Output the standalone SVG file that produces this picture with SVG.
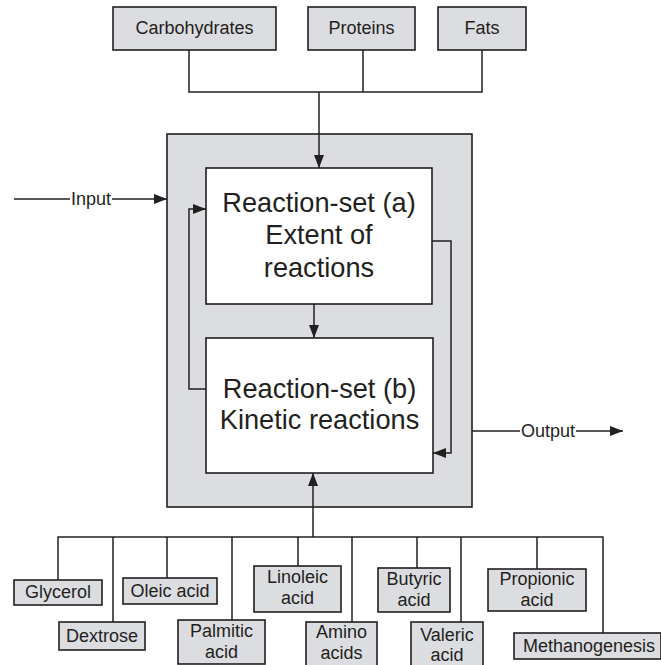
<svg xmlns="http://www.w3.org/2000/svg" width="661" height="665" viewBox="0 0 661 665">
<style>
.box{fill:#dcdde0;stroke:#231f20;stroke-width:1.6}
.wbox{fill:#ffffff;stroke:#231f20;stroke-width:1.6}
.ln{fill:none;stroke:#231f20;stroke-width:1.5}
.t{font-family:"Liberation Sans",Arial,sans-serif;font-size:18px;fill:#231f20;text-anchor:middle}
.big{font-family:"Liberation Sans",Arial,sans-serif;font-size:27.2px;fill:#231f20;text-anchor:middle}
</style>
<defs>
<marker id="ah" viewBox="0 0 13 10" refX="13" refY="5" markerWidth="13" markerHeight="10" markerUnits="userSpaceOnUse" orient="auto">
<path d="M0,0 L13,5 L0,10 Z" fill="#231f20"/>
</marker>
</defs>
<g id="outer"><rect class="box" x="167" y="134" width="305" height="373"/></g>
<g id="connectors">
<path class="ln" d="M189,50 V92 H482 V50 M363,50 V92"/>
<path class="ln" d="M319,92 V168" marker-end="url(#ah)"/>
<path class="ln" d="M14,199 H70 M112,199 H167" marker-end="url(#ah)"/>
<path class="ln" d="M314,304 V338" marker-end="url(#ah)"/>
<path class="ln" d="M206,389 H189 V209 H206" marker-end="url(#ah)"/>
<path class="ln" d="M432,241 H451 V453 H433" marker-end="url(#ah)"/>
<path class="ln" d="M472,431 H520 M576,431 H623" marker-end="url(#ah)"/>
<path class="ln" d="M313,537 V473" marker-end="url(#ah)"/>
<path class="ln" d="M58,580 V537 H603 V633 M113,537 V622 M167,537 V578 M232,537 V620 M298,537 V566 M352,537 V622 M417,537 V568 M461,537 V622 M537,537 V569"/>
<text class="t" x="91" y="205">Input</text>
<text class="t" x="548" y="437">Output</text>
</g>
<g id="carbohydrates"><rect class="box" x="113" y="7" width="163" height="43"/><text class="t" x="194.5" y="34">Carbohydrates</text></g>
<g id="proteins"><rect class="box" x="308" y="7" width="107" height="43"/><text class="t" x="361.5" y="34">Proteins</text></g>
<g id="fats"><rect class="box" x="438" y="7" width="88" height="43"/><text class="t" x="482" y="34">Fats</text></g>
<g id="reaction-a"><rect class="wbox" x="206" y="168" width="226" height="136"/>
<text class="big" x="319" y="212">Reaction-set (a)</text>
<text class="big" x="319" y="244">Extent of</text>
<text class="big" x="319" y="277">reactions</text></g>
<g id="reaction-b"><rect class="wbox" x="206" y="338" width="227" height="135"/>
<text class="big" x="319.5" y="398">Reaction-set (b)</text>
<text class="big" x="319.5" y="429">Kinetic reactions</text></g>
<g id="glycerol"><rect class="box" x="14" y="580" width="88" height="25"/><text class="t" x="58" y="598">Glycerol</text></g>
<g id="dextrose"><rect class="box" x="59" y="622" width="86" height="28"/><text class="t" x="102" y="642">Dextrose</text></g>
<g id="oleic"><rect class="box" x="123" y="578" width="94" height="26"/><text class="t" x="170" y="597">Oleic acid</text></g>
<g id="palmitic"><rect class="box" x="178" y="620" width="87" height="44"/><text class="t" x="221.5" y="637">Palmitic</text><text class="t" x="221.5" y="658">acid</text></g>
<g id="linoleic"><rect class="box" x="254" y="566" width="87" height="46"/><text class="t" x="297.5" y="583">Linoleic</text><text class="t" x="297.5" y="604">acid</text></g>
<g id="amino"><rect class="box" x="306" y="622" width="71" height="44"/><text class="t" x="341.5" y="638">Amino</text><text class="t" x="341.5" y="659">acids</text></g>
<g id="butyric"><rect class="box" x="378" y="568" width="72" height="44"/><text class="t" x="414" y="585">Butyric</text><text class="t" x="414" y="606">acid</text></g>
<g id="valeric"><rect class="box" x="411" y="622" width="72" height="46"/><text class="t" x="447" y="641">Valeric</text><text class="t" x="447" y="661">acid</text></g>
<g id="propionic"><rect class="box" x="488" y="569" width="98" height="42"/><text class="t" x="537" y="585">Propionic</text><text class="t" x="537" y="606">acid</text></g>
<g id="methanogenesis"><rect class="box" x="514" y="633" width="147" height="26"/><text class="t" x="589" y="652">Methanogenesis</text></g>
</svg>
